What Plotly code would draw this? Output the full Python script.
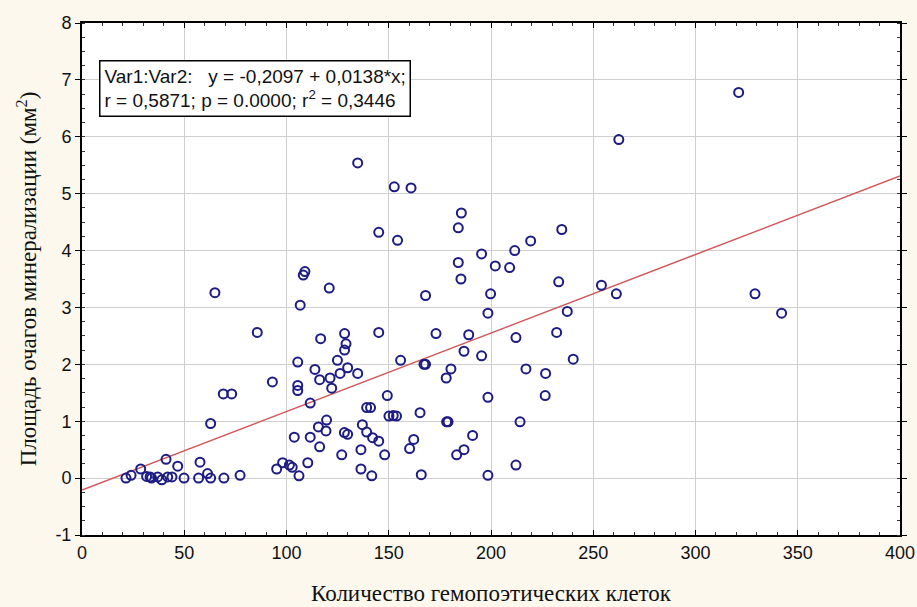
import plotly.graph_objects as go

# Data
x_cells = [21.5, 24, 28.7, 31.6, 33.3, 34, 37, 39, 41.1, 41.9, 44, 46.8, 49.9, 57, 57.7, 61.4,
           62.9, 62.9, 69.4, 77.3, 69.1, 73.2, 65, 85.7, 93.1,
           95.2, 98.1, 101.4, 102.8, 103.8, 105.5, 105.5, 105.5, 106.1, 106.7, 108.2, 109,
           110.4, 111.6, 111.6, 113.9, 115.6, 116.2, 116.2, 116.7, 119.3, 119.6, 120.9, 121.3, 122.1,
           124.9, 126.2, 127, 128.3, 128.4, 128.4, 129.1, 129.9, 129.9, 134.8, 134.8,
           136.4, 136.4, 137.1, 139.2, 139.2, 141.1, 141.7, 142.1, 145.1, 145.1, 145.1, 148, 149.3,
           150.1, 152.2, 152.7, 153.8, 154.3, 155.8, 160.2, 160.9, 162.2, 165.3, 165.9, 167.2, 168, 168,
           173.1, 178.1, 178.3, 179, 180.4, 183.2, 184, 184, 185.3, 185.5, 186.8, 186.8,
           189.1, 191, 195.4, 195.4, 198.5, 198.5, 198.5, 199.8, 202.1, 209.1, 211.6, 212.2, 212.2,
           214.2, 217.1, 219.4, 226.5, 226.7, 232.1, 233.1, 234.6, 237.3, 240.2, 254, 261.3, 262.5,
           321.1, 329.1, 342.1]
y_area = [0.0, 0.05, 0.16, 0.03, 0.02, 0.0, 0.02, -0.03, 0.33, 0.02, 0.02, 0.21, 0.0, 0.0, 0.28, 0.08,
          0.0, 0.96, 0.0, 0.05, 1.48, 1.48, 3.26, 2.56, 1.69,
          0.16, 0.27, 0.23, 0.19, 0.72, 2.04, 1.63, 1.54, 0.04, 3.04, 3.57, 3.63,
          0.27, 1.32, 0.72, 1.91, 0.90, 1.73, 0.55, 2.45, 0.83, 1.02, 3.34, 1.76, 1.58,
          2.07, 1.84, 0.41, 0.80, 2.54, 2.25, 2.36, 1.94, 0.77, 5.54, 1.84,
          0.50, 0.16, 0.94, 1.24, 0.81, 1.24, 0.04, 0.71, 4.32, 2.56, 0.65, 0.41, 1.45,
          1.09, 1.10, 5.12, 1.09, 4.18, 2.07, 0.52, 5.10, 0.68, 1.15, 0.06, 2.0, 2.0, 3.21,
          2.54, 1.76, 0.99, 0.99, 1.92, 0.41, 4.40, 3.79, 3.50, 4.66, 2.23, 0.50,
          2.52, 0.75, 3.94, 2.15, 2.90, 1.42, 0.05, 3.24, 3.73, 3.70, 4.0, 2.47, 0.23,
          0.99, 1.92, 4.17, 1.45, 1.84, 2.56, 3.45, 4.37, 2.93, 2.09, 3.39, 3.24, 5.95,
          6.78, 3.24, 2.90]

intercept = -0.2097
slope = 0.0138
x_range = [0, 400]
y_range = [-1, 8]

x_ticks = [0, 50, 100, 150, 200, 250, 300, 350, 400]
y_ticks = [-1, 0, 1, 2, 3, 4, 5, 6, 7, 8]

line_x = x_range
line_y = [intercept + slope * v for v in line_x]

fig = go.Figure()
fig.add_trace(go.Scatter(x=line_x, y=line_y, mode="lines",
                         line=dict(color="#D0585A", width=1.5), hoverinfo="skip",
                         showlegend=False))
fig.add_trace(go.Scatter(x=x_cells, y=y_area, mode="markers",
                         marker=dict(symbol="circle-open", size=9, color="#1C1C84",
                                     line=dict(width=2, color="#1C1C84")),
                         showlegend=False))

tick_font = dict(family="Liberation Sans, Arial, sans-serif", size=18, color="#111111")
title_font = dict(family="Liberation Serif, Times New Roman, serif", size=23, color="#111111")

fig.update_xaxes(range=x_range, tickvals=x_ticks, ticktext=[str(t) for t in x_ticks],
                 automargin=False,
                 showgrid=True, gridcolor="#CFCFCF", gridwidth=1, zeroline=False,
                 showline=True, linecolor="black", linewidth=2, mirror="ticks",
                 ticks="inside", ticklen=5, tickcolor="black",
                 minor=dict(dtick=10, ticks="inside", ticklen=3, tickcolor="#333333", showgrid=False),
                 tickfont=tick_font,
                 title=dict(text="Количество гемопоэтических клеток", font=title_font, standoff=23))
fig.update_yaxes(range=y_range, tickvals=y_ticks, ticktext=[str(t) for t in y_ticks],
                 automargin=False,
                 showgrid=True, gridcolor="#CFCFCF", gridwidth=1, zeroline=False,
                 showline=True, linecolor="black", linewidth=2, mirror="ticks",
                 ticks="outside", ticklen=5, tickcolor="black",
                 minor=dict(dtick=0.25, ticks="inside", ticklen=3, tickcolor="#333333", showgrid=False),
                 tickfont=tick_font,
                 title=dict(text="Площадь очагов минерализации (мм<sup>2</sup>)", font=title_font,
                            standoff=12))

fig.add_annotation(
    xref="paper", yref="paper", x=0.0208, y=0.928, xanchor="left", yanchor="top",
    text="Var1:Var2:   y = -0,2097 + 0,0138*x;<br>r = 0,5871; p = 0.0000; r<sup>2</sup> = 0,3446",
    showarrow=False, align="left",
    font=dict(family="Liberation Sans, Arial, sans-serif", size=19, color="#111111"),
    bgcolor="white", bordercolor="black", borderwidth=1.5, borderpad=4)

fig.update_layout(width=917, height=607,
                  margin=dict(l=82, r=17, t=23, b=72),
                  paper_bgcolor="#FCF8EE", plot_bgcolor="white")

fig.write_html("out.html", config={"displayModeBar": False},
               post_script="document.body.style.margin='0';document.body.style.background='#FCF8EE';")
